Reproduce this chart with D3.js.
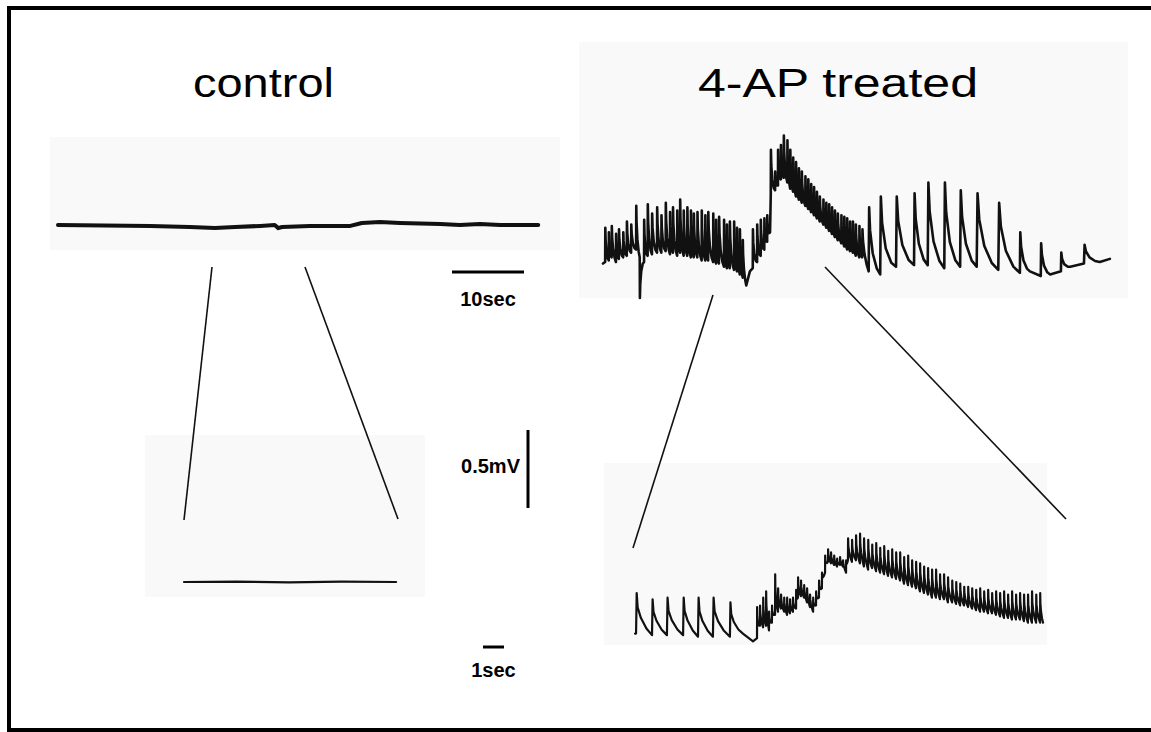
<!DOCTYPE html>
<html><head><meta charset="utf-8">
<script src="https://cdn.jsdelivr.net/npm/d3@7"></script>
<style>html,body{margin:0;padding:0;background:#fff;}svg{display:block;}</style>
</head><body>
<svg id="fig" width="1151" height="732"></svg>
<script>
// ---------------- DATA (time in s, potential in mV) ----------------
const panelTitles = ["control", "4-AP treated"];
const scaleBarValues = [10, 0.5, 1];
const scaleBarLabels = ["10sec", "0.5mV", "1sec"];

// control, slow time base
const controlSlow = [[0,0],[12.8,-0.006],[18.3,-0.013],[21.8,-0.019],[24.6,-0.013],[28.1,-0.006],[30.1,0],[30.6,-0.02],[31.1,-0.013],[35.0,-0.006],[40.6,-0.006],[42.2,0.013],[44.7,0.019],[47.5,0.013],[53.1,0.006],[55.8,0],[58.6,0.006],[61.4,0],[66.7,0]];
// control, fast time base
const controlFast = [[0,0],[2.5,0.003],[5,-0.003],[7.5,0.002],[10.1,0]];

// 4-AP, slow time base: slow points [t, v] and spikes [t, foot, peak]
const apSlowPoints = [[0,-0.01],[19.9,-0.15],[20.4,-0.06],[23.2,0.19],[59.3,-0.06],[62.1,-0.08],[64.9,-0.03],[69.0,0],[70.4,0.02]];
const apSlowSpikes = [
 [0.3,0,0.22],[0.8,0.01,0.19],[1.2,0.03,0.23],[1.8,0,0.18],[2.2,0.02,0.21],[2.8,0.03,0.19],[3.3,0.04,0.26],[3.9,0.06,0.24],[4.6,0.08,0.36],
 [5.1,0.03,-0.23],[5.7,0,0.27],[6.2,0.04,0.37],[6.8,0.05,0.31],[7.5,0.06,0.35],[8.1,0.06,0.30],[8.7,0.07,0.38],[9.3,0.05,0.32],[9.7,0.06,0.35],
 [10.3,0.04,0.33],[10.7,0.06,0.40],[11.2,0.04,0.33],[11.7,0.04,0.35],[12.2,0.03,0.33],[12.6,0.03,0.31],[13.1,0.03,0.32],[13.7,0.01,0.33],
 [14.2,0.01,0.30],[14.6,0.01,0.32],[15.3,0,0.31],[15.7,-0.01,0.27],[16.1,-0.01,0.29],[16.8,-0.03,0.27],[17.2,-0.04,0.24],[17.6,-0.04,0.26],
 [18.2,-0.05,0.26],[18.6,-0.06,0.22],[19.0,-0.08,0.21],[19.4,-0.10,0.14],
 [20.8,-0.04,0.21],[21.4,0,0.24],[21.9,0.04,0.27],[22.4,0.08,0.28],[22.8,0.13,0.30],
 [23.3,0.43,0.72],[23.9,0.46,0.58],[24.3,0.49,0.72],[24.7,0.53,0.75],[25.1,0.54,0.81],[25.6,0.51,0.78],[26.0,0.47,0.72],[26.4,0.45,0.67],
 [26.8,0.42,0.64],[27.2,0.40,0.60],[27.6,0.38,0.58],[28.1,0.36,0.55],[28.5,0.34,0.53],[28.9,0.32,0.50],[29.3,0.30,0.48],[29.7,0.28,0.45],
 [30.1,0.26,0.42],[30.6,0.24,0.40],[31.0,0.22,0.38],[31.4,0.20,0.37],[31.8,0.18,0.35],[32.2,0.16,0.33],[32.6,0.14,0.31],[33.1,0.12,0.30],
 [33.5,0.10,0.29],[33.9,0.08,0.28],[34.3,0.07,0.26],[34.7,0.06,0.26],[35.1,0.04,0.24],[35.6,0.03,0.23],[36.0,0.03,0.21],
 [36.9,-0.06,0.35],[38.5,-0.08,0.42],[40.7,-0.03,0.42],[43.2,-0.02,0.44],[45.1,-0.02,0.51],[47.4,-0.04,0.51],[49.6,-0.03,0.46],
 [51.9,-0.03,0.44],[54.9,-0.05,0.38],[57.9,-0.07,0.19],[60.8,-0.09,0.12],[63.6,-0.06,0.06],[66.8,-0.01,0.11]
];

// 4-AP, fast time base
const apFastPoints = [[0,-0.01],[5.14,-0.01],[5.62,-0.06],[19.43,0.06]];
const apFastSpikes = [
 [0.05,-0.01,0.25],[0.81,-0.02,0.21],[1.52,-0.02,0.22],[2.29,-0.02,0.22],[3.0,-0.03,0.22],[3.71,-0.03,0.22],[4.52,-0.03,0.19],
 [5.81,-0.04,0.16],[5.95,0.04,0.17],[6.10,0.03,0.22],[6.24,0.04,0.26],[6.38,0.01,0.13],[6.52,0.06,0.17],[6.67,0.11,0.37],[6.81,0.13,0.28],
 [6.95,0.15,0.24],[7.10,0.13,0.22],[7.24,0.11,0.22],[7.38,0.12,0.21],[7.52,0.13,0.22],[7.67,0.15,0.27],[7.76,0.22,0.35],[7.90,0.23,0.33],
 [8.05,0.22,0.30],[8.19,0.19,0.28],[8.33,0.16,0.24],[8.48,0.13,0.22],[8.62,0.17,0.26],[8.76,0.22,0.33],[8.90,0.28,0.38],[9.05,0.38,0.49],
 [9.19,0.45,0.53],[9.33,0.44,0.51],[9.48,0.43,0.49],[9.62,0.42,0.47],[9.76,0.43,0.48],[9.90,0.42,0.46],[10.05,0.38,0.46],[10.14,0.46,0.60],
 [10.33,0.45,0.59],[10.52,0.46,0.62],[10.71,0.44,0.63],[10.90,0.42,0.60],[11.10,0.40,0.59],[11.29,0.41,0.56],[11.48,0.39,0.57],[11.67,0.38,0.54],
 [11.86,0.37,0.55],[12.05,0.36,0.52],[12.24,0.35,0.53],[12.43,0.34,0.51],[12.62,0.33,0.51],[12.81,0.31,0.48],[13.00,0.30,0.49],[13.19,0.29,0.46],
 [13.38,0.28,0.45],[13.57,0.26,0.44],[13.76,0.25,0.42],[13.95,0.24,0.41],[14.14,0.22,0.40],[14.33,0.22,0.40],[14.52,0.21,0.37],[14.71,0.21,0.37],
 [14.90,0.19,0.35],[15.10,0.19,0.33],[15.29,0.18,0.32],[15.48,0.17,0.31],[15.67,0.17,0.29],[15.86,0.16,0.29],[16.05,0.15,0.28],[16.24,0.14,0.27],
 [16.43,0.13,0.28],[16.62,0.13,0.26],[16.81,0.12,0.27],[17.00,0.12,0.25],[17.19,0.11,0.26],[17.38,0.10,0.25],[17.57,0.09,0.26],[17.76,0.09,0.24],
 [17.95,0.08,0.26],[18.14,0.08,0.24],[18.33,0.08,0.25],[18.52,0.07,0.24],[18.71,0.06,0.24],[18.90,0.06,0.26],[19.10,0.06,0.24],[19.29,0.06,0.25]
];

// ---------------- LAYOUT ----------------
const svg = d3.select("#fig");
const pxPerSecSlow = 7.2, pxPerSecFast = 21, pxPerMV = 156;
const panelFill = "#f9f9f9";
const ink = "#111";

// border (right edge falls outside the picture, as in the source)
svg.append("rect").attr("x",9).attr("y",8).attr("width",1150).attr("height",722)
  .attr("fill","#fff").attr("stroke","#000").attr("stroke-width",4);

// panels
const panels = [
  {x:50,y:137,w:510,h:113},
  {x:145,y:435,w:280,h:162},
  {x:579,y:42,w:549,h:256},
  {x:604,y:463,w:443,h:182}
];
svg.selectAll("rect.panel").data(panels).join("rect").attr("class","panel")
  .attr("x",d=>d.x).attr("y",d=>d.y).attr("width",d=>d.w).attr("height",d=>d.h).attr("fill",panelFill);

// titles
const titlePos = [{x:193,w:141},{x:698,w:280}];
svg.selectAll("text.title").data(panelTitles).join("text").attr("class","title")
  .attr("x",(d,i)=>titlePos[i].x).attr("y",97)
  .attr("textLength",(d,i)=>titlePos[i].w).attr("lengthAdjust","spacingAndGlyphs")
  .attr("font-family","'Liberation Sans', Arial, sans-serif").attr("font-size",41).attr("fill","#000")
  .text(d=>d);

// zoom guide lines
const guides = [[212,267,184,520],[305,267,398,519],[713,295,633,548],[825,267,1066,519]];
svg.selectAll("line.guide").data(guides).join("line").attr("class","guide")
  .attr("x1",d=>d[0]).attr("y1",d=>d[1]).attr("x2",d=>d[2]).attr("y2",d=>d[3])
  .attr("stroke",ink).attr("stroke-width",1.6);

// trace builder: sharp rise at each spike, then decay toward the next event
function buildTrace(points, spikes, decay){
  const ev = points.map(p=>({t:p[0], v:p[1], type:"p"}))
    .concat(spikes.map(s=>({t:s[0], v:s[1], peak:s[2], type:"s"})))
    .sort((a,b)=>a.t-b.t);
  const out = [];
  ev.forEach((e,i)=>{
    out.push([e.t, e.v]);
    if(e.type==="s"){
      const nx = ev[i+1] || {t:e.t+0.5, v:e.v};
      const g = nx.t - e.t;
      const amp = e.peak - e.v;
      out.push([e.t + g*0.04, e.peak]);
      decay.forEach(([f,a])=>{
        const base = e.v + (nx.v - e.v)*f;
        out.push([e.t + g*f, base + amp*a]);
      });
    }
  });
  return out;
}

function drawTrace(data, x0, y0, pxPerSec, width){
  const dur = d3.max(data, d=>d[0]);
  const x = d3.scaleLinear().domain([0,dur]).range([x0, x0+dur*pxPerSec]);
  const y = d3.scaleLinear().domain([0,1]).range([y0, y0-pxPerMV]);
  svg.append("path").datum(data)
    .attr("d", d3.line().x(d=>x(d[0])).y(d=>y(d[1])))
    .attr("fill","none").attr("stroke",ink).attr("stroke-width",width)
    .attr("stroke-linejoin","round").attr("stroke-linecap","round");
}

drawTrace(controlSlow, 58, 225, pxPerSecSlow, 4);
drawTrace(controlFast, 184, 582, pxPerSecFast, 2.2);
drawTrace(buildTrace(apSlowPoints, apSlowSpikes, [[0.12,0.65],[0.35,0.3],[0.7,0.08]]), 603, 262, pxPerSecSlow, 2.6);
drawTrace(buildTrace(apFastPoints, apFastSpikes, [[0.1,0.65],[0.3,0.4],[0.65,0.15]]), 635, 632, pxPerSecFast, 2.2);

// scale bars
const lblFont = "'Liberation Sans', Arial, sans-serif";
const sx10 = d3.scaleLinear().domain([0,10]).range([452, 452+10*pxPerSecSlow]);
svg.append("line").attr("x1",sx10(0)).attr("x2",sx10(scaleBarValues[0])).attr("y1",272).attr("y2",272)
  .attr("stroke","#000").attr("stroke-width",3);
svg.append("text").attr("x",(sx10(0)+sx10(10))/2).attr("y",306).attr("text-anchor","middle")
  .attr("font-family",lblFont).attr("font-weight","bold").attr("font-size",20).text(scaleBarLabels[0]);

const sy = d3.scaleLinear().domain([0,0.5]).range([508, 508-0.5*pxPerMV]);
svg.append("line").attr("x1",528).attr("x2",528).attr("y1",sy(0)).attr("y2",sy(scaleBarValues[1]))
  .attr("stroke","#000").attr("stroke-width",3);
svg.append("text").attr("x",520).attr("y",473).attr("text-anchor","end")
  .attr("font-family",lblFont).attr("font-weight","bold").attr("font-size",20).text(scaleBarLabels[1]);

const sx1 = d3.scaleLinear().domain([0,1]).range([483, 483+pxPerSecFast]);
svg.append("line").attr("x1",sx1(0)).attr("x2",sx1(scaleBarValues[2])).attr("y1",647).attr("y2",647)
  .attr("stroke","#000").attr("stroke-width",3);
svg.append("text").attr("x",(sx1(0)+sx1(1))/2).attr("y",677).attr("text-anchor","middle")
  .attr("font-family",lblFont).attr("font-weight","bold").attr("font-size",20).text(scaleBarLabels[2]);
</script>
</body></html>
